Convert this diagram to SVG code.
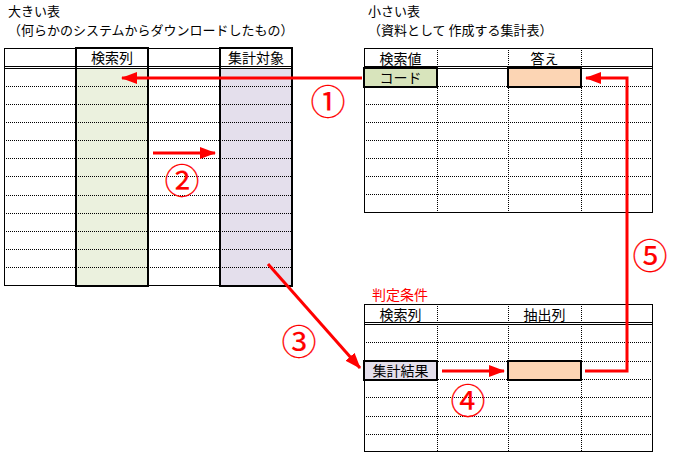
<svg xmlns="http://www.w3.org/2000/svg" width="676" height="461" viewBox="0 0 676 461">
<defs>
<style>
.t{font-family:"Noto Sans CJK JP","Noto Sans",sans-serif;fill:#000;}
.ti{font-size:13px;}
.hd{font-size:14px;text-anchor:middle;}
.num{font-family:"Noto Sans CJK JP","Noto Sans",sans-serif;font-size:35px;fill:#FF0000;stroke:#FF0000;stroke-width:0.2;text-anchor:middle;dominant-baseline:central;}
.red{fill:#FF0000;font-size:14px;}
.thin{stroke:#000;stroke-width:1;fill:none;}
.dot{stroke:#000;stroke-width:1;stroke-dasharray:1 1;fill:none;}
.thick{stroke:#000;stroke-width:2;}
.arr{stroke:#FF0000;stroke-width:3;fill:none;}
</style>
<marker id="ah" markerUnits="userSpaceOnUse" markerWidth="16" markerHeight="12" refX="15" refY="6" orient="auto">
<path d="M0,0 L16,6 L0,12 z" fill="#FF0000"/>
</marker>
</defs>
<rect width="676" height="461" fill="#fff"/>

<g id="title-big">
<text class="t ti" x="8" y="16">大きい表</text>
<text class="t ti" x="8" y="35">（何らかのシステムからダウンロードしたもの）</text>
</g>

<g id="big-table">
<rect x="76" y="68" width="72" height="218" fill="#EBF1DE"/>
<rect x="220" y="68" width="72" height="218" fill="#E4DFEC"/>
<line class="thin" x1="4" y1="48.5" x2="292" y2="48.5"/>
<line class="thin" x1="4" y1="66.5" x2="292" y2="66.5"/>
<line class="thin" x1="4" y1="68.5" x2="292" y2="68.5"/>
<line class="thin" x1="4.5" y1="48" x2="4.5" y2="286"/>
<line class="thin" x1="4" y1="285.5" x2="292" y2="285.5"/>
<g class="dot">
<path d="M4,86.5H292M4,104.5H292M4,122.5H292M4,140.5H292M4,158.5H292M4,176.5H292M4,195.5H292M4,213.5H292M4,231.5H292M4,249.5H292M4,267.5H292"/>
</g>
<rect class="thick" x="76" y="48" width="72" height="238" fill="none"/>
<rect class="thick" x="220" y="48" width="72" height="238" fill="none"/>
<text class="t hd" x="112" y="63">検索列</text>
<text class="t hd" x="256" y="63">集計対象</text>
</g>

<g id="title-small">
<text class="t ti" x="368" y="16">小さい表</text>
<text class="t ti" x="368" y="35">（資料として 作成する集計表）</text>
</g>

<g id="small-table">
<rect class="thin" x="364.5" y="48.5" width="288" height="164"/>
<line class="thin" x1="364" y1="66.5" x2="653" y2="66.5"/>
<line class="thin" x1="364" y1="68.5" x2="653" y2="68.5"/>
<path class="dot" d="M364,86.5H653M364,104.5H653M364,122.5H653M364,140.5H653M364,158.5H653M364,176.5H653M364,194.5H653"/>
<path class="dot" d="M437.5,48V213M508.5,48V213M581.5,48V213"/>
<rect class="thick" x="364" y="68" width="73" height="19" fill="#D8E4BC"/>
<rect class="thick" x="508" y="68" width="73" height="19" fill="#FCD5B4"/>
<text class="t hd" x="400.5" y="64">検索値</text>
<text class="t hd" x="544.5" y="64">答え</text>
<text class="t hd" x="400.5" y="83">コード</text>
</g>

<g id="criteria-title">
<text class="t red" x="372" y="300">判定条件</text>
</g>

<g id="criteria-table">
<rect class="thin" x="364.5" y="304.5" width="288" height="147"/>
<line class="thin" x1="364" y1="322.5" x2="653" y2="322.5"/>
<line class="thin" x1="364" y1="324.5" x2="653" y2="324.5"/>
<path class="dot" d="M364,342.5H653M364,361.5H653M364,379.5H653M364,397.5H653M364,416.5H653M364,434.5H653"/>
<path class="dot" d="M437.5,304V452M508.5,304V452M581.5,304V452"/>
<rect class="thick" x="364" y="361" width="73" height="19" fill="#E4DFEC"/>
<rect class="thick" x="508" y="361" width="73" height="19" fill="#FCD5B4"/>
<text class="t hd" x="400.5" y="320">検索列</text>
<text class="t hd" x="544.5" y="320">抽出列</text>
<text class="t hd" x="400.5" y="376">集計結果</text>
</g>

<g id="connectors">
<line class="arr" x1="362" y1="78" x2="122" y2="78" marker-end="url(#ah)"/>
<line class="arr" x1="153" y1="153" x2="215" y2="153" marker-end="url(#ah)"/>
<line class="arr" x1="268" y1="264" x2="360" y2="368" marker-end="url(#ah)"/>
<line class="arr" x1="442" y1="371" x2="504" y2="371" marker-end="url(#ah)"/>
<path class="arr" d="M585,371H627V78H586" marker-end="url(#ah)"/>
</g>

<g id="labels">
<text class="num" x="328" y="99">①</text>
<text class="num" x="182" y="178">②</text>
<text class="num" x="299" y="339">③</text>
<text class="num" x="468" y="398">④</text>
<text class="num" x="650" y="253">⑤</text>
</g>
</svg>
